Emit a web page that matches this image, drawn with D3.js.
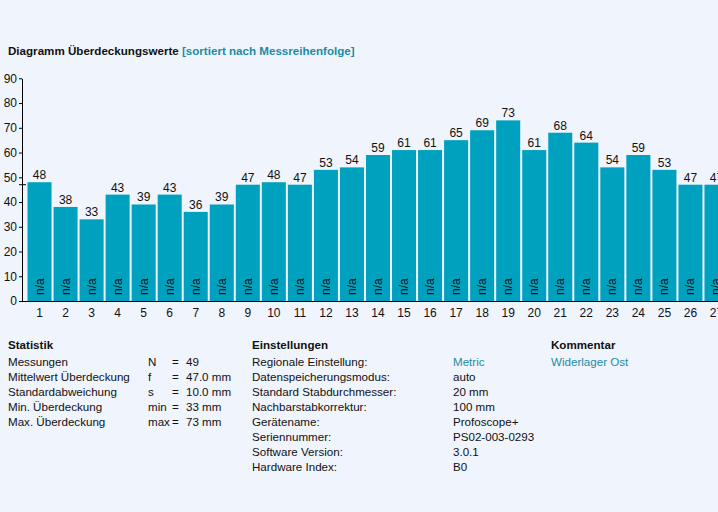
<!DOCTYPE html>
<html><head><meta charset="utf-8">
<script src="https://cdn.jsdelivr.net/npm/d3@7"></script>
<style>
html,body{margin:0;padding:0;background:#F0F4FC;}
svg{display:block;font-family:"Liberation Sans",Arial,sans-serif;}
</style></head>
<body><svg id="c" width="718" height="512"></svg>
<script>
const categories = ["1","2","3","4","5","6","7","8","9","10","11","12","13","14","15","16","17","18","19","20","21","22","23","24","25","26","27"];
const values = [48,38,33,43,39,43,36,39,47,48,47,53,54,59,61,61,65,69,73,61,68,64,54,59,53,47,47];
const barLabels = categories.map(() => "n/a");
const yTicks = [0,10,20,30,40,50,60,70,80,90];
const meanValue = 47.0;
const titleMain = "Diagramm Überdeckungswerte";
const titleSub = "[sortiert nach Messreihenfolge]";
const statLabels = ["Messungen","Mittelwert Überdeckung","Standardabweichung","Min. Überdeckung","Max. Überdeckung"];
const statSymbols = ["N","f","s","min","max"];
const statValues = ["49","47.0 mm","10.0 mm","33 mm","73 mm"];
const settingLabels = ["Regionale Einstellung:","Datenspeicherungsmodus:","Standard Stabdurchmesser:","Nachbarstabkorrektur:","Gerätename:","Seriennummer:","Software Version:","Hardware Index:"];
const settingValues = ["Metric","auto","20 mm","100 mm","Profoscope+","PS02-003-0293","3.0.1","B0"];
const commentText = "Widerlager Ost";

const teal = "#1B8CA6", barColor = "#00A1BE", ink = "#111";
const svg = d3.select("#c");
const fs = 11.6;

// title
const t = svg.append("text").attr("x",8).attr("y",55).attr("font-size",fs).attr("font-weight","bold").attr("fill",ink);
t.append("tspan").text(titleMain + " ");
t.append("tspan").attr("fill",teal).text(titleSub);

// scales
const x0 = 22, yBase = 301, yTop = 78.3;
const step = 26;
const x = d3.scaleBand().domain(categories).range([x0+5, x0+5+step*categories.length]).paddingInner(2/26).paddingOuter(0.5/26);
const y = d3.scaleLinear().domain([0,90]).range([yBase,yTop]);

const g = svg.append("g");
g.selectAll("rect.bar").data(values).join("rect")
  .attr("x",(d,i)=>x(categories[i])).attr("width",x.bandwidth())
  .attr("y",d=>y(d)).attr("height",d=>yBase-y(d)).attr("fill",barColor);

g.selectAll("text.val").data(values).join("text")
  .attr("x",(d,i)=>x(categories[i])+x.bandwidth()/2).attr("y",d=>y(d)-3)
  .attr("text-anchor","middle").attr("font-size",12).attr("fill",ink).text(d=>d);

g.selectAll("text.na").data(barLabels).join("text")
  .attr("transform",(d,i)=>`translate(${x(categories[i])+x.bandwidth()/2+4},${yBase-6}) rotate(-90)`)
  .attr("font-size",12).attr("fill",ink).text(d=>d);

// y axis
const ya = svg.append("g").attr("transform",`translate(${x0},0)`)
  .call(d3.axisLeft(y).tickValues(yTicks).tickSize(3).tickSizeOuter(0).tickPadding(2));
ya.select(".domain").attr("stroke","#000");
ya.selectAll(".tick line").attr("stroke","#000");
ya.selectAll("text").attr("font-size",12).attr("fill",ink).attr("font-family","Liberation Sans, Arial, sans-serif");

// mean marker
svg.append("line").attr("x1",x0-3).attr("x2",x0+4).attr("y1",y(meanValue)).attr("y2",y(meanValue)).attr("stroke","#000");

// x axis
const xa = svg.append("g").attr("transform",`translate(0,${yBase})`)
  .call(d3.axisBottom(x).tickSize(0).tickPadding(7));
xa.select(".domain").attr("d",`M${x0},0.5H718`).attr("stroke","#000");
xa.selectAll("text").attr("font-size",12).attr("fill",ink).attr("font-family","Liberation Sans, Arial, sans-serif");

// Statistik
const lh = 15, yHead = 349, yRow = 366;
svg.append("text").attr("x",8).attr("y",yHead).attr("font-size",fs).attr("font-weight","bold").attr("fill",ink).text("Statistik");
statLabels.forEach((s,i)=>{
  const yy = yRow + i*lh;
  svg.append("text").attr("x",8).attr("y",yy).attr("font-size",fs).attr("fill",ink).text(s);
  svg.append("text").attr("x",148).attr("y",yy).attr("font-size",fs).attr("fill",ink).text(statSymbols[i]);
  svg.append("text").attr("x",172).attr("y",yy).attr("font-size",fs).attr("fill",ink).text("=");
  svg.append("text").attr("x",186).attr("y",yy).attr("font-size",fs).attr("fill",ink).text(statValues[i]);
});

// Einstellungen
svg.append("text").attr("x",252).attr("y",yHead).attr("font-size",fs).attr("font-weight","bold").attr("fill",ink).text("Einstellungen");
settingLabels.forEach((s,i)=>{
  const yy = yRow + i*lh;
  svg.append("text").attr("x",252).attr("y",yy).attr("font-size",fs).attr("fill",ink).text(s);
  svg.append("text").attr("x",453).attr("y",yy).attr("font-size",fs).attr("fill",i===0?teal:ink).text(settingValues[i]);
});

// Kommentar
svg.append("text").attr("x",551).attr("y",yHead).attr("font-size",fs).attr("font-weight","bold").attr("fill",ink).text("Kommentar");
svg.append("text").attr("x",551).attr("y",yRow).attr("font-size",fs).attr("fill",teal).text(commentText);
</script></body></html>
